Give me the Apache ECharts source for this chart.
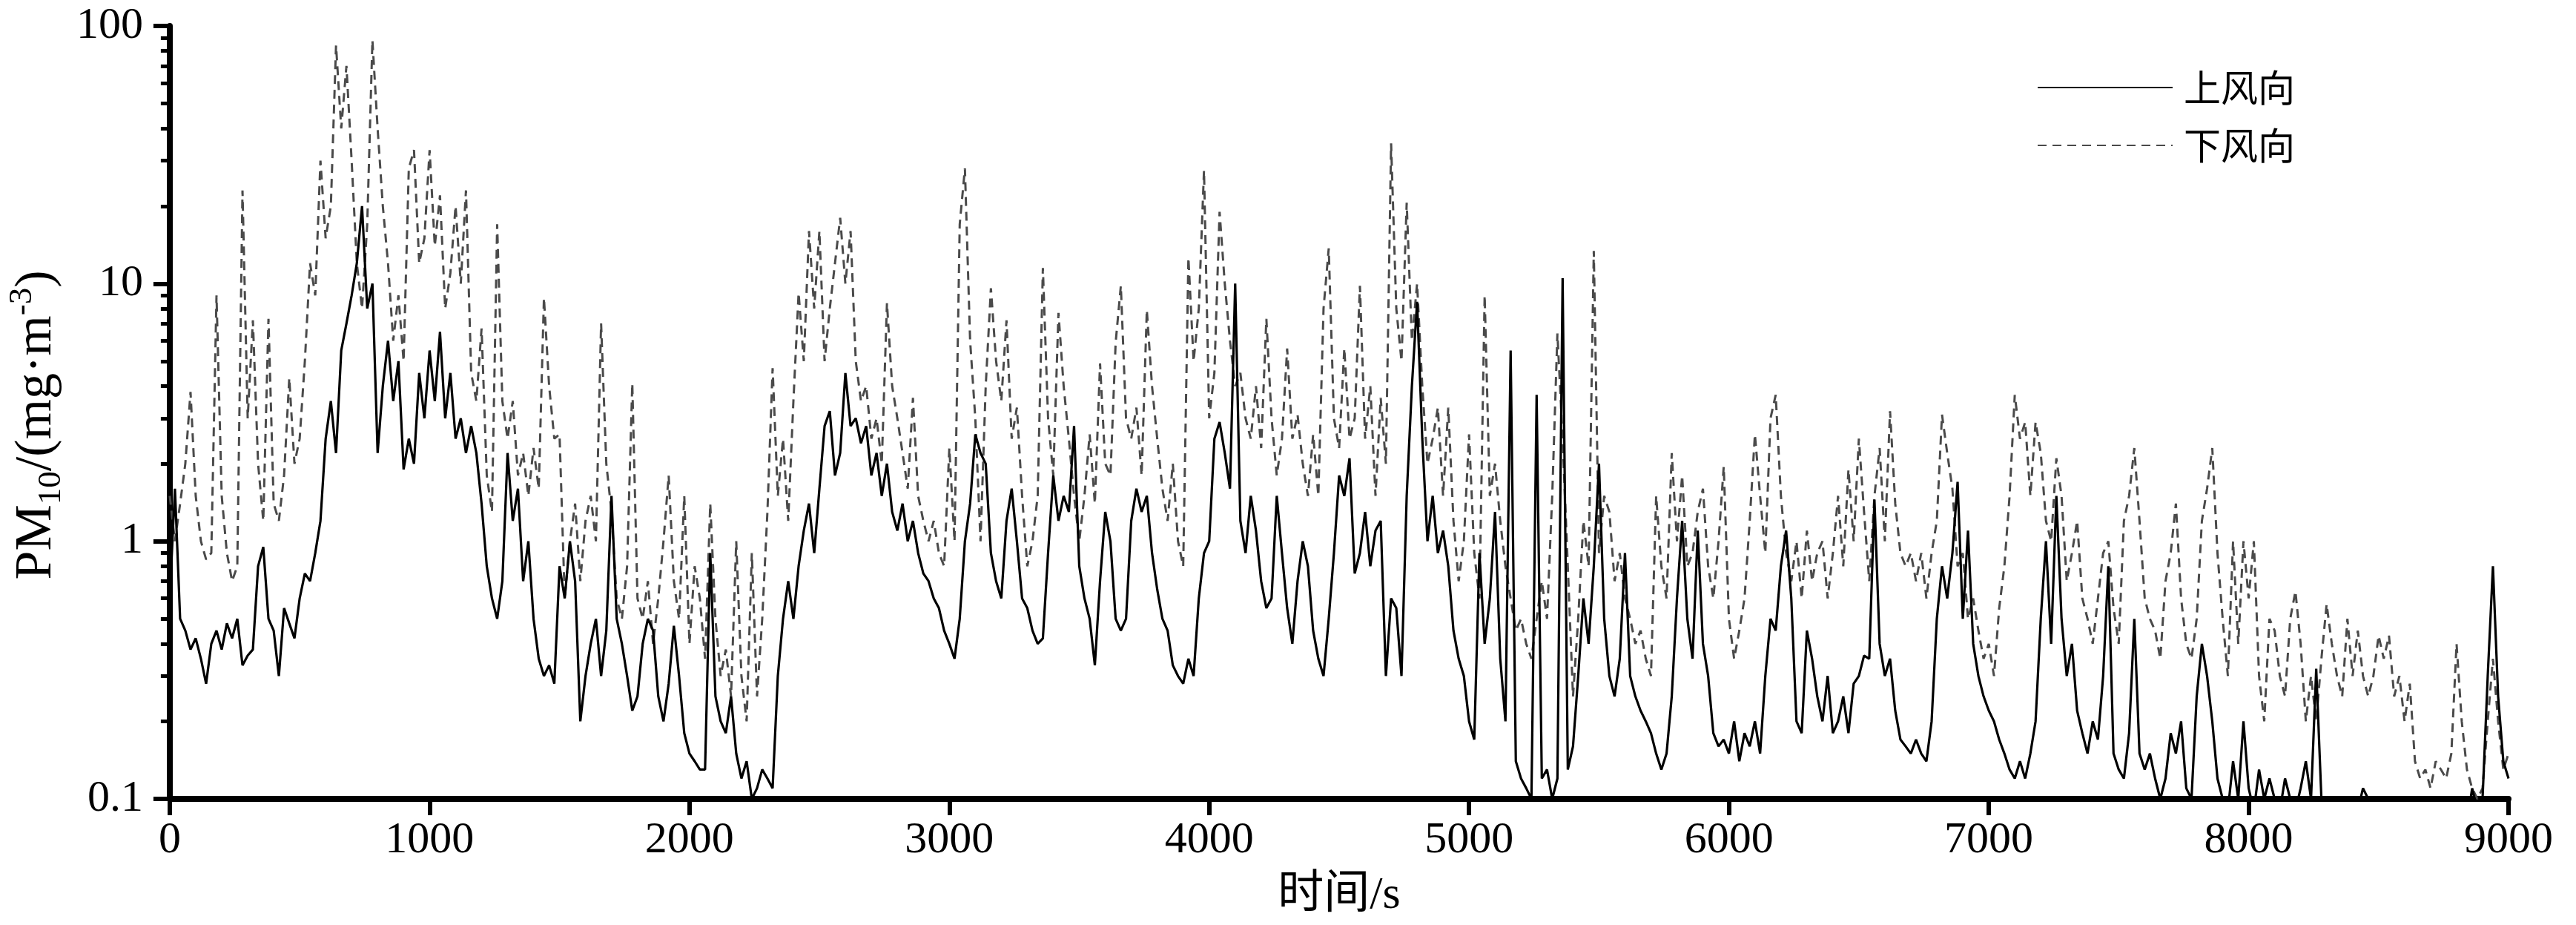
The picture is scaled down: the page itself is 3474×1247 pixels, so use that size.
<!DOCTYPE html>
<html><head><meta charset="utf-8">
<script src="https://cdn.jsdelivr.net/npm/echarts@6/dist/echarts.min.js"></script>
<style>html,body{margin:0;padding:0;background:#fff}#c{width:3474px;height:1247px}</style>
</head><body><div id="c"></div>
<script>
// sampling step of the series (s)
const STEP = 20;
const seriesNames = ['上风向', '下风向'];
// 上风向 (upwind), one value every 20 s from 0 to 9000 s
const upwind = [
0.6,1.6,0.5,0.45,0.38,0.42,0.35,0.28,0.4,0.45,
0.38,0.48,0.42,0.5,0.33,0.36,0.38,0.8,0.95,0.5,
0.45,0.3,0.55,0.48,0.42,0.6,0.75,0.7,0.9,1.2,
2.5,3.5,2.2,5.5,7,9,12,20,8,10,
2.2,4,6,3.5,5,1.9,2.5,2.0,4.5,3,
5.5,3.5,6.5,3,4.5,2.5,3,2.2,2.8,2.2,
1.4,0.8,0.6,0.5,0.7,2.2,1.2,1.6,0.7,1.0,
0.5,0.35,0.3,0.33,0.28,0.8,0.6,1.0,0.7,0.2,
0.3,0.4,0.5,0.3,0.45,1.5,0.5,0.4,0.3,0.22,
0.25,0.4,0.5,0.45,0.25,0.2,0.28,0.47,0.3,0.18,
0.15,0.14,0.13,0.13,0.9,0.25,0.2,0.18,0.25,0.15,
0.12,0.14,0.1,0.11,0.13,0.12,0.11,0.3,0.5,0.7,
0.5,0.8,1.1,1.4,0.9,1.6,2.8,3.2,1.8,2.2,
4.5,2.8,3,2.4,2.8,1.8,2.2,1.5,2.0,1.3,
1.1,1.4,1.0,1.2,0.9,0.75,0.7,0.6,0.55,0.45,
0.4,0.35,0.5,1.0,1.4,2.6,2.2,2.0,0.9,0.7,
0.6,1.2,1.6,1.0,0.6,0.55,0.45,0.4,0.42,0.9,
1.8,1.2,1.5,1.3,2.8,0.8,0.6,0.5,0.33,0.7,
1.3,1.0,0.5,0.45,0.5,1.2,1.6,1.3,1.5,0.9,
0.65,0.5,0.45,0.33,0.3,0.28,0.35,0.3,0.6,0.9,
1.0,2.5,2.9,2.2,1.6,10,1.2,0.9,1.5,1.1,
0.7,0.55,0.6,1.5,0.9,0.55,0.4,0.7,1.0,0.8,
0.45,0.35,0.3,0.5,0.9,1.8,1.5,2.1,0.75,0.9,
1.3,0.8,1.1,1.2,0.3,0.6,0.55,0.3,1.5,4,
8.5,2.5,1.0,1.5,0.9,1.1,0.8,0.45,0.35,0.3,
0.2,0.17,0.9,0.4,0.6,1.3,0.35,0.2,5.5,0.14,
0.12,0.11,0.1,3.7,0.12,0.13,0.1,0.12,10.5,0.13,
0.16,0.3,0.6,0.4,0.8,2.0,0.5,0.3,0.25,0.35,
0.9,0.3,0.25,0.22,0.2,0.18,0.15,0.13,0.15,0.25,
0.6,1.2,0.5,0.35,1.1,0.4,0.3,0.18,0.16,0.17,
0.15,0.2,0.14,0.18,0.16,0.2,0.15,0.3,0.5,0.45,
0.8,1.1,0.6,0.2,0.18,0.45,0.35,0.25,0.2,0.3,
0.18,0.2,0.25,0.18,0.28,0.3,0.36,0.35,1.45,0.4,
0.3,0.35,0.22,0.17,0.16,0.15,0.17,0.15,0.14,0.2,
0.5,0.8,0.6,0.9,1.7,0.5,1.1,0.4,0.3,0.25,
0.22,0.2,0.17,0.15,0.13,0.12,0.14,0.12,0.15,0.2,
0.5,1.0,0.4,1.5,0.5,0.3,0.4,0.22,0.18,0.15,
0.2,0.17,0.3,0.8,0.15,0.13,0.12,0.18,0.5,0.15,
0.13,0.15,0.12,0.1,0.12,0.18,0.15,0.2,0.11,0.1,
0.25,0.4,0.3,0.2,0.12,0.1,0.09,0.14,0.1,0.2,
0.11,0.09,0.13,0.1,0.12,0.1,0.09,0.12,0.1,0.09,
0.11,0.14,0.1,0.32,0.1,0.09,0.1,0.08,0.09,0.08,
0.1,0.09,0.11,0.1,0.09,0.08,0.1,0.08,0.09,0.08,
0.07,0.08,0.07,0.08,0.07,0.08,0.07,0.08,0.07,0.08,
0.09,0.1,0.08,0.11,0.09,0.1,0.3,0.8,0.25,0.14,
0.12
];
// 下风向 (downwind), one value every 20 s from 0 to 9000 s
const downwind = [
1.5,1.0,1.4,2.0,3.8,1.5,1.0,0.85,0.9,9.0,
1.5,0.9,0.7,0.8,23,3,7.2,2,1.2,7.3,
1.4,1.2,1.8,4.3,2,2.5,5,12,9,30,
15,20,84,40,70,30,12,8,17,88,
40,20,12,6,9,5,28,33,12,15,
33,14,22,8,11,20,10,23,4.5,3.5,
6.7,1.8,1.3,17,3.5,2.5,3.5,1.8,2.2,1.5,
2.3,1.6,8.8,4,2.5,2.6,0.6,1.0,1.4,0.7,
1.2,1.5,1.0,7,2,1.3,0.6,0.5,0.8,4.1,
0.6,0.5,0.7,0.4,0.6,1.0,1.8,0.7,0.5,1.5,
0.4,0.8,0.6,0.35,1.4,0.5,0.3,0.38,0.25,1.0,
0.3,0.2,0.9,0.25,0.5,1.3,4.7,1.5,2.5,1.2,
3.5,9.2,5,16,8,16,5,8,12,18,
10,16,5,3.5,4,2.5,3,2.0,8.4,4,
3,2.2,1.6,3.6,1.5,1.2,1.0,1.2,0.9,0.8,
2.3,1.0,17,28,6,3,1.0,4,9.6,5,
3.5,7.2,2.5,3.3,1.5,0.8,1.0,1.5,11.5,3,
1.8,7.7,4,2.5,1.5,1.0,1.5,2.6,1.4,4.9,
2,1.8,5.9,9.8,3,2.5,3.3,1.8,7.9,4,
2.5,1.6,1.2,2.0,1.0,0.8,12.6,5,8,27.5,
3,4.5,19,10,6,4,4.5,3,2.5,4,
2.3,7.3,3,1.8,2.5,5.6,2.5,3.1,2,1.5,
2.6,1.5,8,13.7,3,2.3,5.6,2.5,3,9.8,
2.5,4,1.5,3.6,2,35,8,5,20.6,6,
10,4,2,2.5,3.3,1.5,3.3,1.2,0.7,1.0,
2.6,0.9,0.6,9,1.5,2.0,1.2,0.8,0.6,0.45,
0.5,0.4,0.35,0.5,0.7,0.5,1.5,6.4,2.5,0.8,
0.25,0.5,1.2,0.8,13.4,0.9,1.5,1.3,0.7,0.9,
0.6,0.5,0.4,0.45,0.35,0.3,1.5,0.8,0.6,2.2,
1.0,1.8,0.8,0.9,1.3,1.6,0.8,0.6,1.0,1.95,
0.5,0.35,0.45,0.6,1.2,2.6,1.5,0.9,3,3.7,
1.5,0.9,0.7,1.0,0.6,1.1,0.7,0.9,1.0,0.6,
0.9,1.5,0.8,1.9,1.0,2.5,1.3,0.7,1.5,2.3,
1.0,3.2,1.4,0.9,0.8,0.9,0.7,0.9,0.6,0.9,
1.2,3.1,2.2,1.6,0.8,0.9,0.5,0.6,0.45,0.35,
0.4,0.3,0.55,0.8,1.5,3.7,2.5,2.9,1.5,2.9,
2.2,1.2,1.0,2.1,1.5,0.7,0.9,1.2,0.6,0.5,
0.4,0.6,0.9,1.0,0.55,0.4,1.2,1.5,2.3,1.2,
0.6,0.5,0.45,0.35,0.7,0.9,1.4,0.6,0.4,0.35,
0.5,1.2,1.6,2.3,0.9,0.5,0.3,1.0,0.4,1.0,
0.6,1.0,0.3,0.2,0.5,0.45,0.3,0.25,0.5,0.64,
0.4,0.2,0.3,0.2,0.35,0.57,0.4,0.3,0.25,0.5,
0.3,0.45,0.3,0.25,0.3,0.43,0.35,0.43,0.25,0.3,
0.2,0.28,0.14,0.12,0.13,0.11,0.14,0.13,0.12,0.15,
0.4,0.2,0.13,0.11,0.1,0.11,0.2,0.35,0.2,0.13,
0.15
];
const xTickValues = [0, 1000, 2000, 3000, 4000, 5000, 6000, 7000, 8000, 9000];
const yMajorTicks = [0.1, 1, 10, 100];
const yMinorTicks = [0.2,0.3,0.4,0.5,0.6,0.7,0.8,0.9, 2,3,4,5,6,7,8,9, 20,30,40,50,60,70,80,90];

const chart = echarts.init(document.getElementById('c'), null, {renderer: 'canvas'});
const NUM_FONT = 'Liberation Serif, Times New Roman, serif';
const CJK_FONT = 'Liberation Serif, Noto Sans CJK SC, sans-serif';

const option = {
  animation: false,
  backgroundColor: '#fff',
  grid: {left: 228, right: 91, top: 35, bottom: 170, containLabel: false},
  legend: {
    orient: 'vertical', left: 2742, top: 88,
    itemWidth: 182, itemHeight: 20, itemGap: 28,
    itemStyle: {opacity: 0},
    textStyle: {fontSize: 50, fontFamily: 'Noto Sans CJK SC', color: '#000', padding: [0, 0, 0, 10]},
    data: seriesNames
  },
  xAxis: {
    type: 'value', min: 0, max: 9000, interval: 1000,
    name: '时间/s', nameLocation: 'middle', nameGap: 100,
    nameTextStyle: {fontSize: 62, fontFamily: CJK_FONT, color: '#000'},
    axisLine: {show: true, onZero: false, lineStyle: {color: '#000', width: 8}},
    axisTick: {show: true, inside: false, length: 22, lineStyle: {color: '#000', width: 6}, customValues: xTickValues},
    axisLabel: {fontSize: 60, fontFamily: NUM_FONT, color: '#000', margin: 26, customValues: xTickValues,
      formatter: v => String(v)},
    splitLine: {show: false}
  },
  yAxis: [{
    type: 'log', logBase: 10, min: 0.1, max: 100,
    name: '{a|PM}{b|10}{a|/(mg·m}{c|-3}{a|)}', nameLocation: 'middle', nameRotate: 90, nameGap: 125,
    nameTextStyle: {
      fontFamily: NUM_FONT, color: '#000', fontSize: 70, padding: [0, 34, 0, 0],
      rich: {
        a: {fontSize: 70, fontFamily: NUM_FONT, color: '#000', lineHeight: 84},
        b: {fontSize: 45, fontFamily: NUM_FONT, color: '#000', lineHeight: 45, verticalAlign: 'bottom'},
        c: {fontSize: 45, fontFamily: NUM_FONT, color: '#000', lineHeight: 45, verticalAlign: 'top'}
      }
    },
    axisLine: {show: true, lineStyle: {color: '#000', width: 8}},
    axisTick: {show: true, length: 22, lineStyle: {color: '#000', width: 6}, customValues: yMajorTicks},
    axisLabel: {fontSize: 60, fontFamily: NUM_FONT, color: '#000', margin: 36, customValues: yMajorTicks,
      formatter: v => String(v)},
    splitLine: {show: false}, minorTick: {show: false}, minorSplitLine: {show: false}
  }, {
    type: 'log', logBase: 10, min: 0.1, max: 100, position: 'left',
    axisLine: {show: false},
    axisTick: {show: true, length: 12, lineStyle: {color: '#000', width: 5}, customValues: yMinorTicks},
    axisLabel: {show: false},
    splitLine: {show: false}
  }],
  series: [{
    name: seriesNames[0], type: 'line', yAxisIndex: 0, symbol: 'none', clip: true, z: 3,
    data: upwind.map((v, i) => [i * STEP, v]),
    lineStyle: {color: '#000', width: 3.2},
    itemStyle: {color: '#000'}
  }, {
    name: seriesNames[1], type: 'line', yAxisIndex: 0, symbol: 'none', clip: true, z: 2,
    data: downwind.map((v, i) => [i * STEP, v]),
    lineStyle: {color: '#4a4a4a', width: 3, type: [12, 8]},
    itemStyle: {color: '#4a4a4a'}
  }]
};
chart.setOption(option);
</script>
</body></html>
